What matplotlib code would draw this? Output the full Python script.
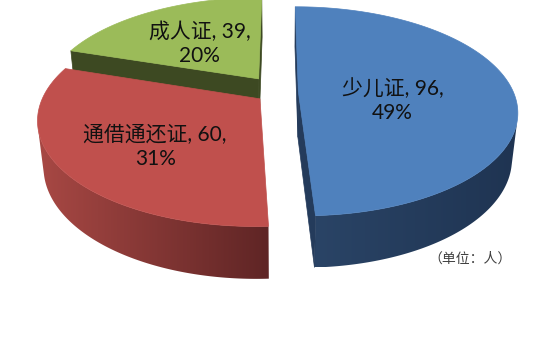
# -*- coding: utf-8 -*-
import numpy as np
import matplotlib.pyplot as plt
from matplotlib.patches import Polygon
from matplotlib.colors import to_rgb

plt.rcParams['font.family'] = ['Lato', 'Noto Sans CJK SC', 'DejaVu Sans']

# donnees
names = ['少儿证', '通借通还证', '成人证']
counts = [96, 60, 39]
unit_text = '（单位：人）'

top_colors = ['#4f81bd', '#c0504d', '#9bbb59']
side_left = ['#2a4466', '#a84844', '#5a6e2e']
side_right = ['#1f3452', '#5f2525', '#3d4922']
cut_colors = ['#243b5b', '#6e2b2a', '#3d4922']
explode = [0.09, 0.11, 0.165]
label_r = [0.44, 0.56, 0.53]
label_dy = [10, 11, 3]   # decalage vertical des etiquettes (px)

# projection perspective (camera au dessus, devant)
CX, CY = 279, 92
ELEV = np.radians(28)
DIST = 4.73
FOCAL = 1017
THICK = 0.245
cam = np.array([0.0, -DIST*np.cos(ELEV), DIST*np.sin(ELEV)])

def proj(X, Y, H):
    c, s = np.cos(ELEV), np.sin(ELEV)
    z = DIST + Y*c - H*s
    return CX + FOCAL*X/z, CY - FOCAL*(H*c + Y*s)/z

def visible(p, n):
    return np.dot(cam - p, n) > 0

fig = plt.figure(figsize=(5.6, 3.46), dpi=100)
ax = fig.add_axes([0, 0, 1, 1])
ax.set_xlim(0, 560)
ax.set_ylim(346, 0)
ax.axis('off')

total = float(sum(counts))
fracs = np.array(counts)/total
bounds = np.concatenate([[0], np.cumsum(fracs)])*360

slices = []
for i in range(len(counts)):
    a0, a1 = bounds[i], bounds[i+1]
    m = np.radians((a0 + a1)/2)
    ox, oy = explode[i]*np.sin(m), explode[i]*np.cos(m)
    slices.append((oy, i, a0, a1, ox))

# du fond vers l'avant
for oy, i, a0, a1, ox in sorted(slices, reverse=True):
    th = np.radians(np.linspace(a0, a1, 4*int(a1 - a0) + 2))

    # paroi exterieure (partie visible) avec degrade horizontal
    vis = []
    for t in th:
        p = np.array([ox + np.sin(t), oy + np.cos(t), -THICK/2])
        vis.append(visible(p, np.array([np.sin(t), np.cos(t), 0])))
    tv = th[np.array(vis)]
    if len(tv) > 1:
        Xv, Yv = ox + np.sin(tv), oy + np.cos(tv)
        up = [proj(x, y, 0) for x, y in zip(Xv, Yv)]
        dn = [proj(x, y, -THICK) for x, y in zip(Xv, Yv)]
        pts = up + dn[::-1]
        wall = Polygon(pts, closed=True, facecolor='none', edgecolor='none')
        ax.add_patch(wall)
        xs = [q[0] for q in pts]
        ys = [q[1] for q in pts]
        c1, c2 = np.array(to_rgb(side_left[i])), np.array(to_rgb(side_right[i]))
        g = np.linspace(0, 1, 256)[None, :, None]
        img = c1 + (c2 - c1)*g
        im = ax.imshow(img, extent=[min(xs), max(xs), max(ys), min(ys)],
                       aspect='auto', interpolation='bilinear', zorder=1)
        im.set_clip_path(wall)
        # remettre les axes apres imshow
        ax.set_xlim(0, 560)
        ax.set_ylim(346, 0)

    # faces radiales
    for ang, sgn in ((a0, -1), (a1, 1)):
        r = np.radians(ang)
        nr = r + sgn*np.pi/2
        p = np.array([ox + 0.5*np.sin(r), oy + 0.5*np.cos(r), -THICK/2])
        if not visible(p, np.array([np.sin(nr), np.cos(nr), 0])):
            continue
        ex, ey = ox + np.sin(r), oy + np.cos(r)
        pts = [proj(ox, oy, 0), proj(ex, ey, 0),
               proj(ex, ey, -THICK), proj(ox, oy, -THICK)]
        ax.add_patch(Polygon(pts, closed=True, facecolor=cut_colors[i],
                             edgecolor=cut_colors[i], linewidth=0.5, zorder=1))

    # dessus
    X, Y = ox + np.sin(th), oy + np.cos(th)
    pts = [proj(ox, oy, 0)] + [proj(x, y, 0) for x, y in zip(X, Y)]
    ax.add_patch(Polygon(pts, closed=True, facecolor=top_colors[i],
                         edgecolor=top_colors[i], linewidth=0.5, zorder=1))

# etiquettes
for i in range(len(counts)):
    m = np.radians((bounds[i] + bounds[i+1])/2)
    R = explode[i] + label_r[i]
    lx, ly = proj(R*np.sin(m), R*np.cos(m), 0)
    txt = '%s, %d,\n%d%%' % (names[i], counts[i], round(fracs[i]*100))
    ax.text(lx, ly + label_dy[i], txt, ha='center', va='center', fontsize=15,
            linespacing=1.25, color='#111111', zorder=3)

ax.text(470, 259, unit_text, ha='center', va='center', fontsize=10,
        color='#404040', family=['Noto Sans CJK SC', 'DejaVu Sans'], zorder=3)

fig.savefig('out.png', dpi=100)
